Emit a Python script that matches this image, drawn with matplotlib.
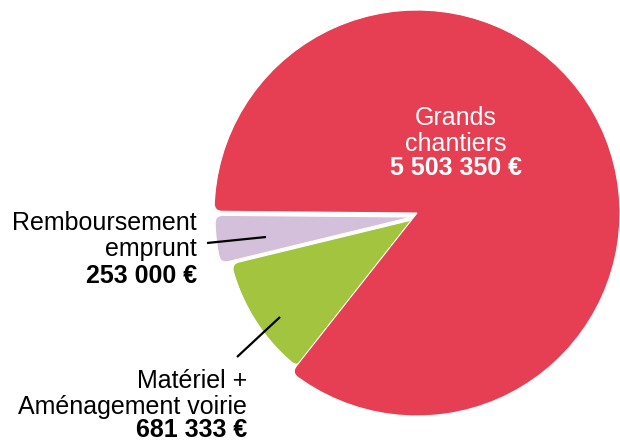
import numpy as np
import matplotlib
matplotlib.use('Agg')
import matplotlib.pyplot as plt
from matplotlib.path import Path
from matplotlib.patches import PathPatch

# budget split (euros)
labels = ['Remboursement\nemprunt', 'Matériel +\nAménagement voirie', 'Grands\nchantiers']
values = [253000, 681333, 5503350]
amounts = ['253 000 €', '681 333 €', '5 503 350 €']
colors = ['#D4C0DB', '#A2C43F', '#E63E52']

W, H = 620, 448


def rounded_wedge(c, r, t1, t2, k, ka):
    # wedge outline with soft outer corners (k) and apex (ka)
    cx, cy = c
    def pt(rad, deg):
        a = np.radians(deg)
        return (cx + rad * np.cos(a), cy + rad * np.sin(a))
    dk = np.degrees(k / r)
    if ka > 0:
        verts = [pt(ka, t2), (cx, cy), pt(ka, t1)]
        codes = [Path.MOVETO, Path.CURVE3, Path.CURVE3]
    else:
        verts = [(cx, cy)]
        codes = [Path.MOVETO]
    verts += [pt(r - k, t1), pt(r, t1), pt(r, t1 + dk)]
    codes += [Path.LINETO, Path.CURVE3, Path.CURVE3]
    for a in np.linspace(t1 + dk, t2 - dk, 80)[1:]:
        verts.append(pt(r, a))
        codes.append(Path.LINETO)
    verts += [pt(r, t2), pt(r - k, t2), (0, 0)]
    codes += [Path.CURVE3, Path.CURVE3, Path.CLOSEPOLY]
    return Path(verts, codes)


fig = plt.figure(figsize=(W / 100, H / 100), dpi=100)
ax = fig.add_axes([0, 0, 1, 1])

wedges, _ = ax.pie(values, colors=colors, startangle=179.5, counterclock=True,
                   center=(416, H - 214), radius=200)

# each slice sits a bit apart, with its own size
layout = [((412, H - 217), 197, 3), ((414, H - 219.5), 188, 3), ((417, H - 213), 203, 0)]
for w, col, (c, r, ka) in zip(wedges, colors, layout):
    w.set_visible(False)
    ax.add_patch(PathPatch(rounded_wedge(c, r, w.theta1, w.theta2, 8, ka),
                           facecolor=col, edgecolor='white', lw=0.8))

ax.set_xlim(0, W)
ax.set_ylim(0, H)
ax.set_aspect('equal')
ax.axis('off')

fam = ['Liberation Sans', 'DejaVu Sans']
fs = 18
ls = 1.1

# big slice, label inside
ax.text(456, H - 151, labels[2], ha='center', va='baseline', color='white',
        fontsize=fs, linespacing=ls, family=fam)
ax.text(456, H - 175, amounts[2], ha='center', va='baseline', color='white',
        fontsize=fs, fontweight='bold', family=fam)

# small slices, labels outside with a leader
ax.text(197, H - 256, labels[0], ha='right', va='baseline', fontsize=fs,
        linespacing=ls, family=fam)
ax.text(197, H - 283, amounts[0], ha='right', va='baseline', fontsize=fs,
        fontweight='bold', family=fam)
ax.plot([207, 266], [H - 243, H - 237], color='black', lw=1.6, solid_capstyle='butt')

ax.text(247, H - 414, labels[1], ha='right', va='baseline', fontsize=fs,
        linespacing=ls, family=fam)
ax.text(247, H - 437, amounts[1], ha='right', va='baseline', fontsize=fs,
        fontweight='bold', family=fam)
ax.plot([237, 280], [H - 357, H - 317], color='black', lw=1.6, solid_capstyle='butt')

fig.savefig('out.png', dpi=100)
